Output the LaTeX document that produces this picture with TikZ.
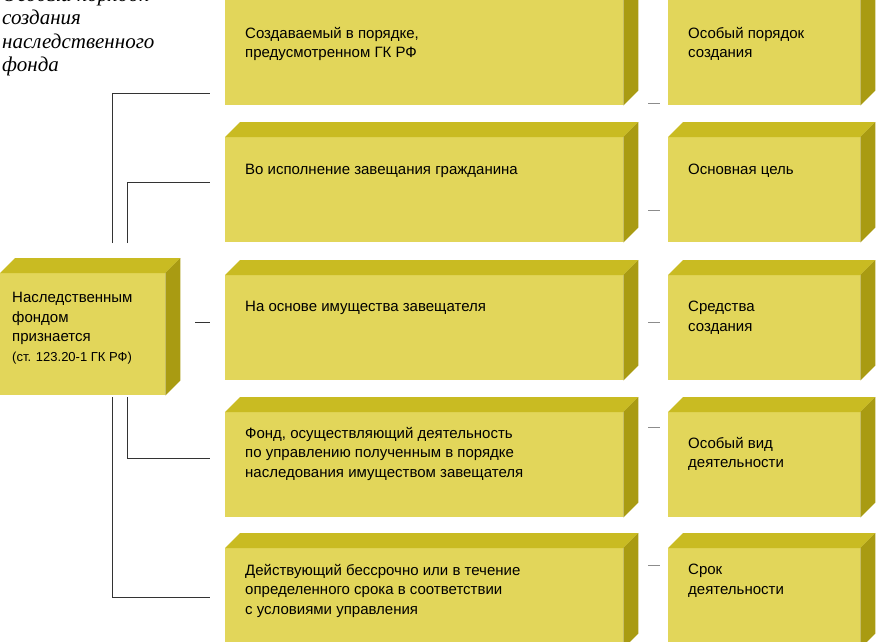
\documentclass[tikz,border=0pt]{standalone}
\usepackage{fontspec}
\setmainfont{Liberation Sans}
\newfontfamily\notefont{Liberation Serif}
\definecolor{frontc}{HTML}{E2D65A}
\definecolor{topc}{HTML}{C9BB22}
\definecolor{sidec}{HTML}{A99B12}
\tikzset{
  front/.style={fill=frontc, inner sep=0, anchor=north west},
  txt/.style={anchor=north west, inner sep=0, align=left, font=\fontsize{15}{19.5}\selectfont},
  link/.style={draw=black!80, line width=0.8pt},
  tick/.style={draw=black!45, line width=0.9pt}
}
% box with top and side faces
\newcommand\solidbox[5]{%
  \node[front, minimum width=#4pt, minimum height=#5pt] (#1) at (#2,#3) {};
  \fill[topc] (#1.north west) -- ++(15,-15) -- ([xshift=15pt,yshift=15pt]#1.north east) -- (#1.north east) -- cycle;
  \fill[sidec] (#1.north east) -- ++(15,-15) -- ([xshift=15pt,yshift=15pt]#1.south east) -- (#1.south east) -- cycle;
}
\begin{document}
\begin{tikzpicture}[x=1pt,y=-1pt]
  \useasboundingbox (0,0) rectangle (886,642);
  \clip (0,0) rectangle (886,642);

  \solidbox{m1}{225}{0}{398}{105}
  \solidbox{m2}{225}{137}{398}{105}
  \solidbox{m3}{225}{275}{398}{105}
  \solidbox{m4}{225}{412}{398}{105}
  \solidbox{m5}{225}{548}{398}{100}

  \solidbox{r1}{668}{0}{192}{105}
  \solidbox{r2}{668}{137}{192}{105}
  \solidbox{r3}{668}{275}{192}{105}
  \solidbox{r4}{668}{412}{192}{105}
  \solidbox{r5}{668}{548}{192}{100}

  \solidbox{heir}{0}{273}{165}{122}

  \node[txt] (t1) at (245,27) {Создаваемый в порядке,\\предусмотренном ГК РФ};
  \node[txt] (t2) at (245,164) {Во исполнение завещания гражданина};
  \node[txt] (t3) at (245,301) {На основе имущества завещателя};
  \node[txt] (t4) at (245,427) {Фонд, осуществляющий деятельность\\по управлению полученным в порядке\\наследования имуществом завещателя};
  \node[txt] (t5) at (245,564) {Действующий бессрочно или в течение\\определенного срока в соответствии\\с условиями управления};

  \node[txt] (s1) at (688,27) {Особый порядок\\создания};
  \node[txt] (s2) at (688,164) {Основная цель};
  \node[txt] (s3) at (688,301) {Средства\\создания};
  \node[txt] (s4) at (688,437) {Особый вид\\деятельности};
  \node[txt] (s5) at (688,564) {Срок\\деятельности};

  \node[txt] (th) at (12,292) {Наследственным\\фондом\\признается\\{\fontsize{13}{19.5}\selectfont(ст. 123.20-1 ГК РФ)}};

  \node[anchor=north west, inner sep=0, align=left, font=\notefont\itshape\fontsize{21}{23.5}\selectfont] (note) at (2,-14)
    {Особый порядок\\создания\\наследственного\\фонда};

  % connectors from the left box
  \draw[link] ([xshift=112pt,yshift=30pt]heir.north west) |- ([xshift=-15pt,yshift=12pt]m1.south west);
  \draw[link] ([xshift=127pt,yshift=30pt]heir.north west) |- ([xshift=-15pt,yshift=60pt]m2.south west);
  \draw[link] ([xshift=30pt,yshift=-49pt]heir.north east) -- ([xshift=-15pt,yshift=-47pt]m3.north west);
  \draw[link] ([xshift=127pt,yshift=-2pt]heir.south west) |- ([xshift=-15pt,yshift=-46pt]m4.north west);
  \draw[link] ([xshift=112pt,yshift=-2pt]heir.south west) |- ([xshift=-15pt,yshift=-49pt]m5.north west);

  % dashes between the columns
  \foreach \i/\y in {1/103, 2/210, 3/322, 4/427, 5/565}
    \draw[tick] (648,\y) -- (660,\y);
\end{tikzpicture}
\end{document}
